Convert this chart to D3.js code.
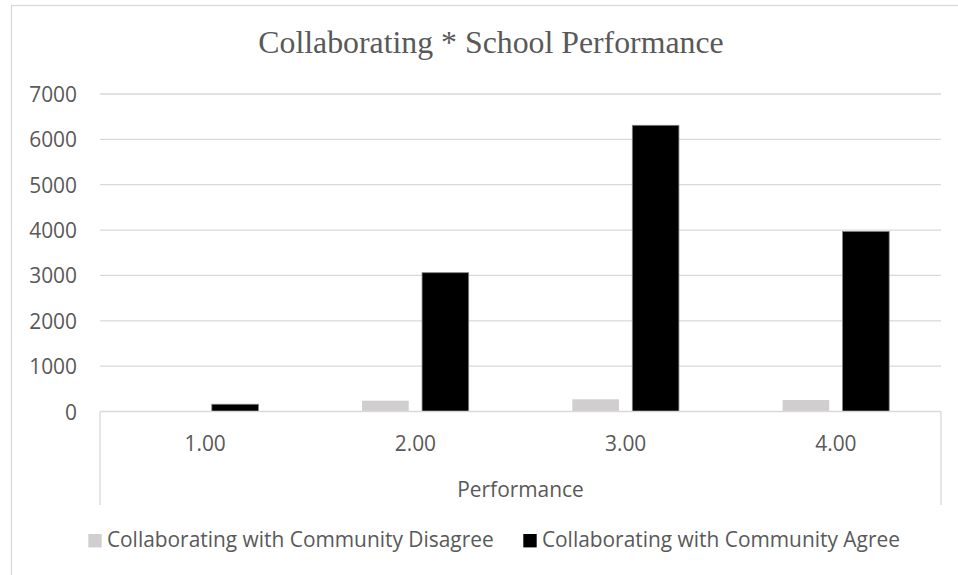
<!DOCTYPE html>
<html>
<head>
<meta charset="utf-8">
<script src="https://cdn.jsdelivr.net/npm/d3@7"></script>
<style>
  html, body { margin: 0; padding: 0; background: #fff; }
  svg { display: block; }
</style>
</head>
<body>
<svg id="chart" width="958" height="575"></svg>
<script>
// Category labels on the x axis
const categories = ["1.00", "2.00", "3.00", "4.00"];
// Series names, in legend order
const seriesNames = ["Collaborating with Community Disagree", "Collaborating with Community Agree"];
// Counts per performance level
const disagreeValues = [6, 238, 269, 253];
const agreeValues = [160, 3060, 6310, 3970];
// Y axis ticks
const yTicks = [0, 1000, 2000, 3000, 4000, 5000, 6000, 7000];

const seriesColors = ["#d0cece", "#000000"];
const textColor = "#595959";
const gridColor = "#d9d9d9";
const sansFont = "'Open Sans', sans-serif";
const labelSize = 20.9;

const svg = d3.select("#chart");

// Chart area frame
svg.append("rect")
  .attr("x", 11.5).attr("y", 5.5)
  .attr("width", 960).attr("height", 600)
  .attr("fill", "#fff")
  .attr("stroke", gridColor).attr("stroke-width", 1.3);

// Title
svg.append("text")
  .attr("x", 491).attr("y", 53.3)
  .attr("text-anchor", "middle")
  .attr("font-family", "'Liberation Serif', 'Times New Roman', serif")
  .attr("font-size", 31.8)
  .attr("fill", textColor)
  .text("Collaborating * School Performance");

const plotLeft = 100, plotRight = 941, plotTop = 94, plotBottom = 411.5;

const y = d3.scaleLinear().domain([0, 7000]).range([plotBottom, plotTop]);

const x0 = d3.scaleBand()
  .domain(categories)
  .range([plotLeft, plotRight])
  .paddingInner(0.493)
  .paddingOuter(0.2465);

const x1 = d3.scaleBand()
  .domain([0, 1])
  .range([0, x0.bandwidth()])
  .paddingInner(0.223)
  .paddingOuter(0);

// Horizontal gridlines
svg.append("g")
  .selectAll("line")
  .data(yTicks.filter(t => t > 0))
  .join("line")
  .attr("x1", plotLeft).attr("x2", plotRight)
  .attr("y1", d => y(d)).attr("y2", d => y(d))
  .attr("stroke", gridColor).attr("stroke-width", 1.3);

// Y axis labels
const yAxis = d3.axisLeft(y).tickValues(yTicks).tickFormat(d3.format("d")).tickSize(0).tickPadding(0);
const yG = svg.append("g")
  .attr("transform", `translate(77,0)`)
  .call(yAxis);
yG.select(".domain").remove();
yG.selectAll("text")
  .attr("font-family", sansFont)
  .attr("font-size", labelSize)
  .attr("fill", textColor)
  .attr("dy", "0.36em");

// Bars
const rows = categories.map((c, i) => ({ cat: c, values: [disagreeValues[i], agreeValues[i]] }));
svg.append("g")
  .selectAll("g")
  .data(rows)
  .join("g")
  .attr("transform", d => `translate(${x0(d.cat)},0)`)
  .selectAll("rect")
  .data(d => d.values.map((v, k) => ({ k, v })))
  .join("rect")
  .attr("x", d => x1(d.k))
  .attr("width", x1.bandwidth())
  .attr("y", d => y(d.v))
  .attr("height", d => y(0) - y(d.v))
  .attr("fill", d => seriesColors[d.k])
  .attr("stroke", d => d.k === 1 ? "#808080" : "none")
  .attr("stroke-width", 0.8);

// Category axis: baseline plus the side rules of the label box
const xAxis = d3.axisBottom(x0).tickSize(0).tickPadding(0);
const xG = svg.append("g")
  .attr("transform", `translate(0,${plotBottom})`)
  .call(xAxis);
xG.select(".domain").remove();
xG.selectAll("text")
  .attr("font-family", sansFont)
  .attr("font-size", labelSize)
  .attr("fill", textColor)
  .attr("dy", null)
  .attr("y", 39.5);

svg.append("line")
  .attr("x1", plotLeft).attr("x2", plotRight)
  .attr("y1", plotBottom).attr("y2", plotBottom)
  .attr("stroke", gridColor).attr("stroke-width", 1.3);
[plotLeft, plotRight].forEach(px => {
  svg.append("line")
    .attr("x1", px).attr("x2", px)
    .attr("y1", plotBottom).attr("y2", 505)
    .attr("stroke", gridColor).attr("stroke-width", 1.3);
});

// Axis title
svg.append("text")
  .attr("x", (plotLeft + plotRight) / 2).attr("y", 496.7)
  .attr("text-anchor", "middle")
  .attr("font-family", sansFont)
  .attr("font-size", labelSize)
  .attr("fill", textColor)
  .text("Performance");

// Legend
const legendX = [88.3, 523.3];
const legend = svg.append("g")
  .selectAll("g")
  .data(seriesNames)
  .join("g")
  .attr("transform", (d, i) => `translate(${legendX[i]},0)`);
legend.append("rect")
  .attr("x", 0).attr("y", 534)
  .attr("width", 13.4).attr("height", 13.4)
  .attr("fill", (d, i) => seriesColors[i]);
legend.append("text")
  .attr("x", 18.6).attr("y", 546.7)
  .attr("font-family", sansFont)
  .attr("font-size", labelSize)
  .attr("fill", textColor)
  .text(d => d);
</script>
</body>
</html>
